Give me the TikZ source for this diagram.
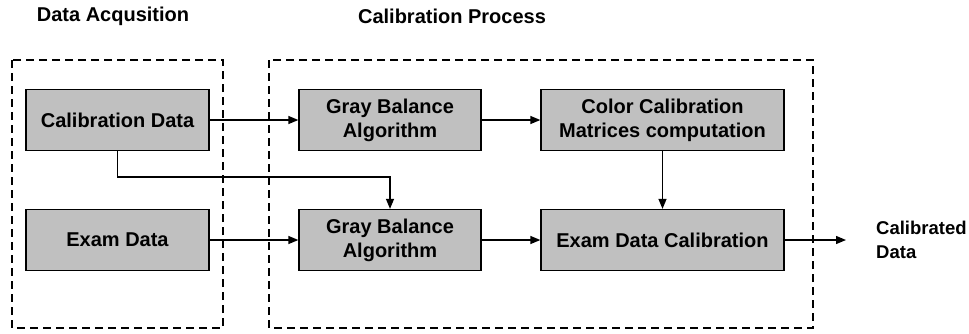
\documentclass[tikz,border=0pt]{standalone}
\usepackage{fontspec}
\setmainfont{Liberation Sans}
\usetikzlibrary{arrows.meta}

\begin{document}
\begin{tikzpicture}[x=1pt,y=-1pt,>={Triangle[length=10pt,width=8pt]},
  blk/.style={draw,line width=1.3pt,fill={rgb,255:red,192;green,192;blue,192},minimum height=61pt,align=center,inner sep=0pt,font=\fontsize{20}{24}\selectfont\bfseries},
  grp/.style={dashed,dash pattern=on 8pt off 5pt,line width=1.1pt},
  lnk/.style={->,line width=1.3pt},
  ttl/.style={font=\fontsize{20}{24}\selectfont\bfseries}]
\useasboundingbox (0,0) rectangle (969,333);
\draw[grp] (12,60) rectangle (223,328);
\draw[grp] (269,60) rectangle (813,328);
\node[ttl] (tacq) at (113,16) {Data Acqusition};
\node[ttl] (tcal) at (452,16) {Calibration Process};
\node[blk,minimum width=183pt] (cal) at (117.5,120) {Calibration Data};
\node[blk,minimum width=183pt] (exam) at (117.5,240) {Exam Data};
\node[blk,minimum width=182pt] (gba1) at (390,120) {Gray Balance\\Algorithm};
\node[blk,minimum width=182pt] (gba2) at (390,240) {Gray Balance\\Algorithm};
\node[blk,minimum width=243pt] (ccm) at (662.5,120) {Color Calibration\\Matrices computation};
\node[blk,minimum width=243pt] (edc) at (662.5,240) {Exam Data Calibration};
\coordinate (res) at (846,240);
\node[ttl,font=\fontsize{18.5}{24}\selectfont\bfseries,anchor=west,align=left,inner sep=0pt] (out) at (876,240) {Calibrated\\Data};
\draw[lnk] (cal) -- (gba1);
\draw[lnk] (gba1) -- (ccm);
\draw[lnk] (cal.south) |- (300,177) -| (gba2.north);
\draw[lnk] (ccm) -- (edc);
\draw[lnk] (exam) -- (gba2);
\draw[lnk] (gba2) -- (edc);
\draw[lnk] (edc) -- (res);
\end{tikzpicture}
\end{document}
